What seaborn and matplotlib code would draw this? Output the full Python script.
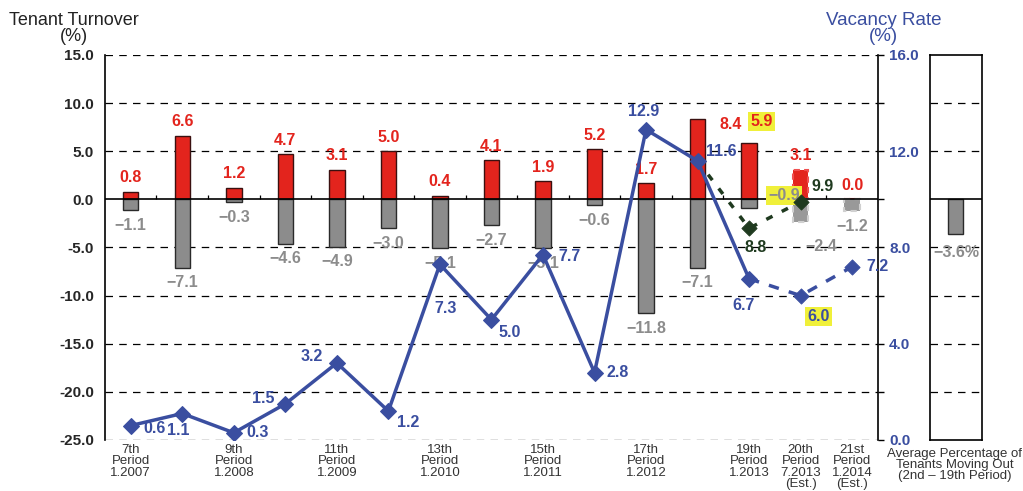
import numpy as np
import matplotlib
matplotlib.use("Agg")
import matplotlib.pyplot as plt
import seaborn as sns

# data
periods = ["7th\nPeriod\n1.2007", "", "9th\nPeriod\n1.2008", "", "11th\nPeriod\n1.2009", "",
           "13th\nPeriod\n1.2010", "", "15th\nPeriod\n1.2011", "", "17th\nPeriod\n1.2012", "",
           "19th\nPeriod\n1.2013", "20th\nPeriod\n7.2013\n(Est.)", "21st\nPeriod\n1.2014\n(Est.)"]
move_in = [0.8, 6.6, 1.2, 4.7, 3.1, 5.0, 0.4, 4.1, 1.9, 5.2, 1.7, 8.4, 5.9, 3.1, 0.0]
move_out = [-1.1, -7.1, -0.3, -4.6, -4.9, -3.0, -5.1, -2.7, -5.1, -0.6, -11.8, -7.1, -0.9, -2.4, -1.2]
vacancy = [0.6, 1.1, 0.3, 1.5, 3.2, 1.2, 7.3, 5.0, 7.7, 2.8, 12.9, 11.6, 6.7, 6.0, 7.2]
alt_vacancy = [11.6, 8.8, 9.9]          # periods 18th-20th, dark green dashed
avg_move_out = -3.6

RED = "#e3241d"
GRAY = "#8c8c8c"
BLUE = "#3a4ea0"
GREEN = "#1f3a1f"
YELLOW = "#f0f03a"
LBL = 11.5

sns.set_theme(style="white")
plt.rcParams["font.family"] = ["Liberation Sans", "DejaVu Sans"]

fig = plt.figure(figsize=(10.23, 4.91), dpi=100)
ax = fig.add_axes([0.1026, 0.1039, 0.7556, 0.7841])
axr = fig.add_axes([0.909, 0.1039, 0.0508, 0.7841])

idx = np.arange(len(periods))
sns.barplot(x=idx, y=move_in, color=RED, saturation=1, width=0.3,
            edgecolor="#3a1010", linewidth=1, ax=ax)
sns.barplot(x=idx, y=move_out, color=GRAY, saturation=1, width=0.3,
            edgecolor="#2a2a2a", linewidth=1, ax=ax)

# estimated periods: dashed outlines, lighter fill
for i in (13, 14):
    p = ax.containers[0].patches[i]
    p.set_edgecolor("#f05050")
    p.set_linestyle((0, (3, 2)))
    p.set_linewidth(1.5)
    q = ax.containers[1].patches[i]
    q.set_edgecolor("#d0d0d0")
    q.set_facecolor("#999999")
    q.set_linestyle((0, (3, 2)))
    q.set_linewidth(1.5)

ax.set_xlim(-0.5, len(periods) - 0.5)
ax.set_ylim(-25, 15)
ax.set_yticks(np.arange(-25, 16, 5))
ax.set_yticklabels([f"{v:.1f}" for v in np.arange(-25, 16, 5)], fontsize=11, fontweight="bold")
ax.set_xticks(idx)
ax.set_xticklabels(periods, fontsize=9.5, color="#333333", linespacing=0.92)
ax.tick_params(axis="x", length=0, pad=3)
ax.tick_params(axis="y", length=0, pad=8)
ax.set_xlabel("")
for v in np.arange(-25, 16, 5):
    if v != 0:
        ax.axhline(v, color="black", lw=0.9, ls=(0, (6, 5)), zorder=0)
ax.axhline(0, color="black", lw=1.2, zorder=3)
ax.vlines(idx[:-1] + 0.5, 0, 0.45, color="black", lw=0.9, zorder=3)
for s in ("top", "bottom"):
    ax.spines[s].set_visible(False)
for s in ("left", "right"):
    ax.spines[s].set_color("black")
    ax.spines[s].set_linewidth(1.2)

# bar labels
red_off = {11: (24, -4), 12: (9, 15)}
gray_off = {12: (25, 9), 13: (15, -17)}
for i, v in enumerate(move_in):
    dx, dy = red_off.get(i, (0, 10))
    bbox = dict(facecolor=YELLOW, edgecolor="none", pad=1.5) if i == 12 else None
    ax.annotate(f"{v:.1f}", (i, v), xytext=(dx, dy), textcoords="offset points",
                ha="center", va="center", color=RED, fontsize=LBL, fontweight="bold",
                bbox=bbox, zorder=6)
for i, v in enumerate(move_out):
    dx, dy = gray_off.get(i, (0, -11))
    bbox = dict(facecolor=YELLOW, edgecolor="none", pad=1.5) if i == 12 else None
    ax.annotate(f"\u2212{abs(v):.1f}", (i, v), xytext=(dx, dy), textcoords="offset points",
                ha="center", va="center", color=GRAY, fontsize=LBL, fontweight="bold",
                bbox=bbox, zorder=6)

# vacancy rate on the right axis
ax2 = ax.twinx()
ax2.set_ylim(0, 16)
sns.lineplot(x=idx[:13], y=vacancy[:13], color=BLUE, lw=2.5, marker="D", markersize=8,
             markeredgecolor=BLUE, ax=ax2, zorder=5)
sns.lineplot(x=idx[12:], y=vacancy[12:], color=BLUE, lw=2.5, ls=(0, (3, 3)), ax=ax2, zorder=5)
sns.scatterplot(x=idx[13:], y=vacancy[13:], color=BLUE, marker="D", s=60,
                edgecolor=BLUE, ax=ax2, zorder=6)
sns.lineplot(x=idx[11:14], y=alt_vacancy, color=GREEN, lw=2.5, ls=(0, (2, 3)), ax=ax2, zorder=4)
sns.scatterplot(x=idx[12:14], y=alt_vacancy[1:], color=GREEN, marker="D", s=60,
                edgecolor=GREEN, ax=ax2, zorder=6)
ax2.set_yticks(np.arange(0, 17, 4))
ax2.set_yticks(np.arange(2, 16, 4), minor=True)
ax2.set_yticklabels([f"{v:.1f}" for v in np.arange(0, 17, 4)], fontsize=11,
                    fontweight="bold", color=BLUE)
ax2.tick_params(axis="y", which="both", length=4, width=1, color="black",
                direction="out", pad=4, right=True)
ax2.grid(False)
for s in ax2.spines.values():
    s.set_visible(False)

blue_off = [(17, -2), (-3, -12), (17, 0), (-16, 4), (-18, 5), (14, -8), (4, -32), (13, -9),
            (19, -1), (17, 0), (-2, 13), (17, 7), (-4, -19), (13, -15), (18, 0)]
for i, v in enumerate(vacancy):
    dx, dy = blue_off[i]
    bbox = dict(facecolor=YELLOW, edgecolor="none", pad=1.5) if i == 13 else None
    ax2.annotate(f"{v:.1f}", (i, v), xytext=(dx, dy), textcoords="offset points",
                 ha="center", va="center", color=BLUE, fontsize=LBL, fontweight="bold",
                 bbox=bbox, zorder=7)
green_off = [(5, -14), (16, 11)]
for (i, v), (dx, dy) in zip(zip(idx[12:14], alt_vacancy[1:]), green_off):
    ax2.annotate(f"{v:.1f}", (i, v), xytext=(dx, dy), textcoords="offset points",
                 ha="center", va="center", color=GREEN, fontsize=LBL, fontweight="bold", zorder=7)

# right panel: average move-out
sns.barplot(x=["avg"], y=[avg_move_out], color=GRAY, saturation=1, width=0.29,
            edgecolor="#2a2a2a", linewidth=1, ax=axr)
axr.set_xlim(-0.5, 0.5)
axr.set_ylim(-25, 15)
axr.set_xticks([])
axr.set_yticks([])
axr.set_xlabel("")
for v in np.arange(-20, 11, 5):
    if v != 0:
        axr.axhline(v, color="black", lw=0.9, ls=(0, (6, 5)), zorder=0)
axr.axhline(0, color="black", lw=1.2, zorder=3)
for s in axr.spines.values():
    s.set_color("black")
    s.set_linewidth(1.2)
axr.annotate(f"\u2212{abs(avg_move_out):.1f}%", (0, avg_move_out), xytext=(0, -13),
             textcoords="offset points", ha="center", va="center", color=GRAY,
             fontsize=LBL, fontweight="bold")
fig.text(0.9335, 0.088, "Average Percentage of\nTenants Moving Out\n(2nd \u2013 19th Period)",
         ha="center", va="top", fontsize=9.5, color="#333333", linespacing=0.92)

fig.text(0.072, 0.975, "Tenant Turnover\n(%)", ha="center", va="top", fontsize=13,
         color="#222222", linespacing=0.9)
fig.text(0.864, 0.975, "Vacancy Rate\n(%)", ha="center", va="top", fontsize=13.5,
         color=BLUE, linespacing=0.9)

fig.savefig("out.png", dpi=100)
